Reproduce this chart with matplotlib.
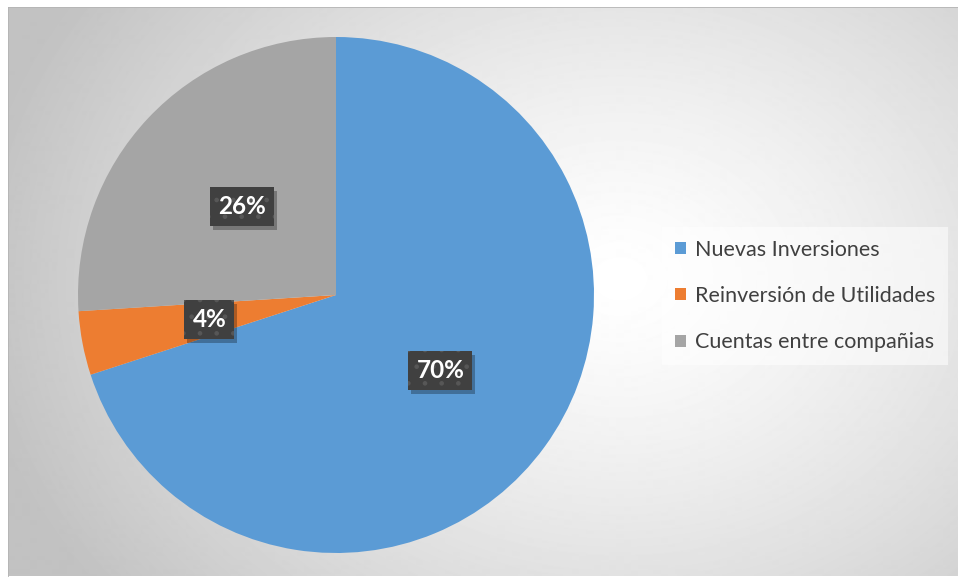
import numpy as np
import matplotlib.pyplot as plt
from matplotlib.patches import Rectangle

# data
labels = ['Nuevas Inversiones', 'Reinversión de Utilidades', 'Cuentas entre compañias']
values = [70, 4, 26]
colors = ['#5B9BD5', '#ED7D31', '#A5A5A5']

W, H = 958, 577
fig = plt.figure(figsize=(W / 100, H / 100), dpi=100)
fig.patch.set_facecolor('white')

# radial gradient background inside the chart frame
x0, y0 = 8, 7
bg = fig.add_axes([x0 / W, 0, 1 - x0 / W, 1 - y0 / H])
yy, xx = np.mgrid[y0:H, x0:W]
r = np.hypot(xx - 620, (yy - 280) * 1.25) / 650
r = np.clip(r, 0, 1)
shade = 1 - 0.24 * r ** 1.3
bg.imshow(shade, cmap='gray', vmin=0, vmax=1, aspect='auto', interpolation='bilinear')
bg.set_axis_off()
bg.plot([0, W], [0, 0], color='#b4b4b4', lw=1.2)
bg.plot([0, 0], [0, H], color='#b4b4b4', lw=1.2)
bg.set_xlim(0, W - x0)
bg.set_ylim(H - y0, 0)

# pie
cx, cy, R = 336, 295, 258
ax = fig.add_axes([(cx - R) / W, (H - cy - R) / H, 2 * R / W, 2 * R / H])
wedges, _, autotexts = ax.pie(values, colors=colors, startangle=90, counterclock=False,
                              autopct='%1.0f%%', pctdistance=0.5,
                              wedgeprops=dict(linewidth=0))
ax.set_xlim(-1, 1)
ax.set_ylim(-1, 1)
ax.set_axis_off()

# data label boxes, dark with a faint dot pattern
plt.rcParams['hatch.linewidth'] = 0.9
for t in autotexts:
    t.set_fontfamily('Lato')
    t.set_fontweight('bold')
    t.set_fontsize(17.5)
    t.set_color('white')
    t.set_zorder(5)
    t.set_bbox(dict(boxstyle='square,pad=0.33', facecolor='#404040', edgecolor='#575757',
                    linewidth=0, hatch='.'))

# soft shadow under each label box
fig.canvas.draw()
for t in autotexts:
    bb = t.get_bbox_patch().get_window_extent()
    ax.add_patch(Rectangle((bb.x0 + 3, bb.y0 - 4), bb.width, bb.height,
                           transform=None, facecolor='black', alpha=0.28,
                           edgecolor='none', zorder=4))

# legend
leg = fig.legend(wedges, labels, loc='center left', bbox_to_anchor=(662 / W, 1 - 296 / H),
                 prop=dict(family='Lato', size=15.5), frameon=True, fancybox=False,
                 handlelength=0.5, handleheight=0.5, handletextpad=0.42,
                 labelspacing=1.23, borderpad=0.6, borderaxespad=0)
leg.get_frame().set_facecolor('white')
leg.get_frame().set_alpha(0.55)
leg.get_frame().set_linewidth(0)
for txt in leg.get_texts():
    txt.set_color('#404040')

fig.savefig('out.png', dpi=100)
